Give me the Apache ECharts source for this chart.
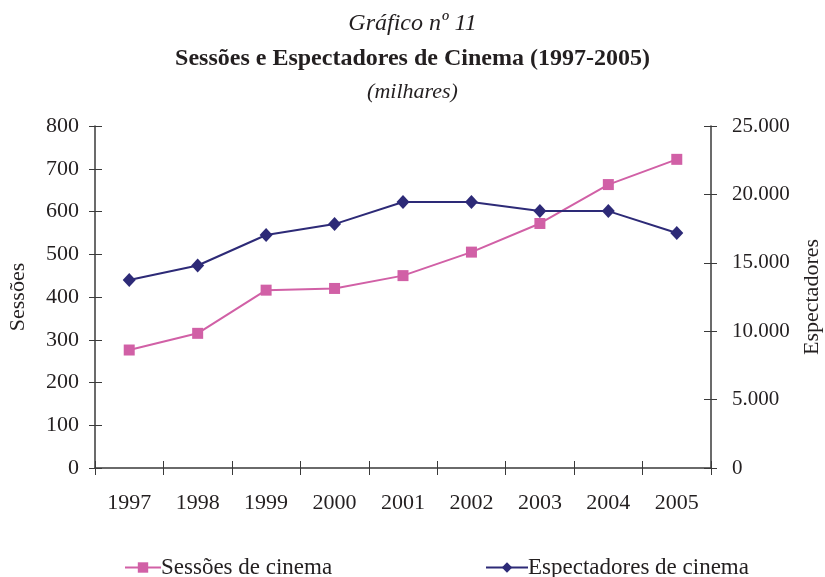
<!DOCTYPE html>
<html>
<head>
<meta charset="utf-8">
<script src="https://cdn.jsdelivr.net/npm/echarts@6/dist/echarts.min.js"></script>
<style>
  html, body { margin: 0; padding: 0; background: #fff; }
  #chart { width: 825px; height: 577px; }
</style>
</head>
<body>
<div id="chart"></div>
<script>
// dados (milhares)
var anos = ['1997', '1998', '1999', '2000', '2001', '2002', '2003', '2004', '2005'];
var sessoes = [276, 315, 416, 420, 450, 505, 572, 663, 722];
var espectadores = [13745, 14800, 17030, 17830, 19440, 19440, 18780, 18780, 17180];
var nomes = ['Sessões de cinema', 'Espectadores de cinema'];

var fonte = 'Liberation Serif';
var corTexto = '#231f20';
var corEixo = '#3a3a3a';
var corRosa = '#d160a6';
var corAzul = '#2d2a77';

var chart = echarts.init(document.getElementById('chart'));

function fmtPonto(v) {
  return String(v).replace(/\B(?=(\d{3})+(?!\d))/g, '.');
}

// eixo "fantasma" só para desenhar a metade interna dos ticks (cruzados)
function eixoTickInterno(pos, max, interval) {
  return {
    type: 'value', position: pos, min: 0, max: max, interval: interval,
    axisLine: { show: false },
    axisTick: { show: true, inside: true, length: 7, lineStyle: { color: corEixo } },
    axisLabel: { show: false },
    splitLine: { show: false }
  };
}

var option = {
  backgroundColor: '#fff',
  animation: false,
  title: [
    { text: 'Gráfico nº 11', left: 'center', top: 7,
      textStyle: { fontFamily: fonte, fontStyle: 'italic', fontWeight: 'normal', fontSize: 24, color: corTexto } },
    { text: 'Sessões e Espectadores de Cinema (1997-2005)', left: 'center', top: 42,
      textStyle: { fontFamily: fonte, fontWeight: 'bold', fontSize: 24, color: corTexto } },
    { text: '(milhares)', left: 'center', top: 76,
      textStyle: { fontFamily: fonte, fontStyle: 'italic', fontWeight: 'normal', fontSize: 22, color: corTexto } }
  ],
  legend: [
    { data: [nomes[0]], left: 119, top: 551, itemWidth: 36, itemHeight: 13, itemGap: 0,
      textStyle: { fontFamily: fonte, fontSize: 23, color: corTexto, padding: [0, 0, 0, -5] } },
    { data: [nomes[1]], left: 480, top: 551, itemWidth: 42, itemHeight: 13, itemGap: 0,
      textStyle: { fontFamily: fonte, fontSize: 23, color: corTexto, padding: [0, 0, 0, -5] } }
  ],
  grid: { left: 95, right: 114, top: 126, bottom: 109, containLabel: false, outerBoundsMode: 'none' },
  xAxis: [
    {
      type: 'category', data: anos, boundaryGap: true,
      axisLine: { lineStyle: { color: corEixo, width: 1.5 } },
      axisTick: { show: true, length: 7, lineStyle: { color: corEixo } },
      axisLabel: { fontFamily: fonte, fontSize: 22, color: corTexto, margin: 24 }
    },
    {
      type: 'category', data: anos, boundaryGap: true, position: 'bottom',
      axisLine: { show: false },
      axisTick: { show: true, inside: true, length: 7, lineStyle: { color: corEixo } },
      axisLabel: { show: false }
    }
  ],
  yAxis: [
    {
      type: 'value', min: 0, max: 800, interval: 100, position: 'left',
      name: 'Sessões', nameLocation: 'middle', nameRotate: 90, nameGap: 66,
      nameTextStyle: { fontFamily: fonte, fontSize: 22, color: corTexto },
      axisLine: { show: true, lineStyle: { color: corEixo, width: 1.5 } },
      axisTick: { show: true, length: 6, lineStyle: { color: corEixo } },
      axisLabel: { fontFamily: fonte, fontSize: 22, color: corTexto, margin: 16 },
      splitLine: { show: false }
    },
    {
      type: 'value', min: 0, max: 25000, interval: 5000, position: 'right',
      name: 'Espectadores', nameLocation: 'middle', nameRotate: 90, nameGap: 90,
      nameTextStyle: { fontFamily: fonte, fontSize: 22, color: corTexto },
      axisLine: { show: true, lineStyle: { color: corEixo, width: 1.5 } },
      axisTick: { show: true, length: 6, lineStyle: { color: corEixo } },
      axisLabel: { fontFamily: fonte, fontSize: 21, color: corTexto, margin: 21, formatter: fmtPonto },
      splitLine: { show: false }
    },
    eixoTickInterno('left', 800, 100),
    eixoTickInterno('right', 25000, 5000)
  ],
  series: [
    {
      name: nomes[0], type: 'line', data: sessoes, xAxisIndex: 0, yAxisIndex: 0,
      symbol: 'rect', symbolSize: 11, showAllSymbol: true,
      lineStyle: { color: corRosa, width: 2 },
      itemStyle: { color: corRosa }
    },
    {
      name: nomes[1], type: 'line', data: espectadores, xAxisIndex: 0, yAxisIndex: 1,
      symbol: 'diamond', symbolSize: [13, 14], showAllSymbol: true,
      lineStyle: { color: corAzul, width: 2 },
      itemStyle: { color: corAzul }
    }
  ]
};

chart.setOption(option);
</script>
</body>
</html>
